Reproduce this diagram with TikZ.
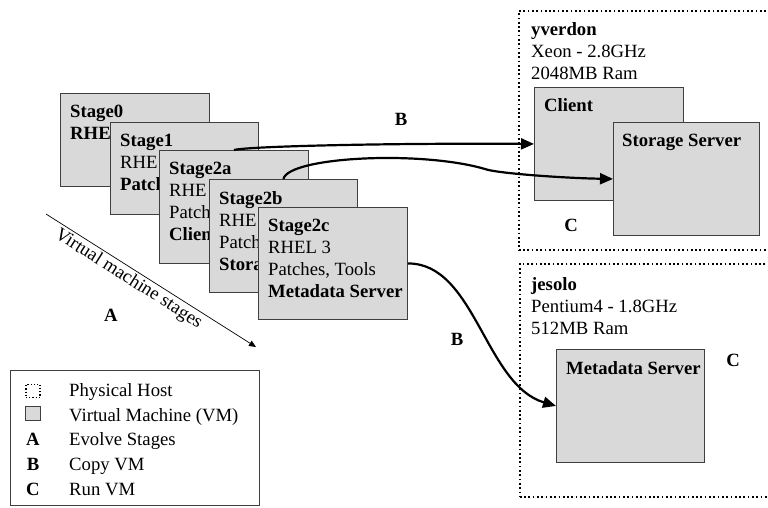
\documentclass[tikz,border=0pt]{standalone}
\usepackage{fontspec}
\setmainfont{Liberation Serif}
\usepackage{xcolor}
\usepackage{tikz}
\usetikzlibrary{
	arrows.meta,									% 提供各种箭头样式
	calc,											% 坐标计算
	positioning,									% 节点的高级摆放
}

\definecolor{vmfill}{HTML}{D9D9D9}
\definecolor{vmline}{HTML}{3F3F3F}

\tikzset{
	vmbox/.style={draw=vmline, fill=vmfill, line width=0.9pt, anchor=north west, inner sep=0pt, minimum width=149pt, minimum height=113pt},
	vmtext/.style={anchor=north west, inner sep=0pt, align=left},
	hostbox/.style={draw, line width=1.7pt, dash pattern=on 1.7pt off 2.6pt, anchor=north west, inner sep=0pt, minimum width=262pt},
	copyarrow/.style={line width=2.2pt, -{Triangle[length=13pt, width=11pt]}},
	letter/.style={font=\fontsize{18.7}{22}\selectfont\bfseries, inner sep=0pt},
}

\begin{document}
\begin{tikzpicture}[x=1pt, y=-1pt, every node/.style={font=\fontsize{18.7}{22}\selectfont}]
	\useasboundingbox (0,0) rectangle (768,507);
	% 物理主机
	\node[hostbox, minimum height=239pt] (yverdon) at (518,10) {};
	\node[vmtext, below right=12pt and 13pt of yverdon.north west] (yverdontxt) {\textbf{yverdon}\\Xeon - 2.8GHz\\2048MB Ram};
	\node[hostbox, minimum height=233pt] (jesolo) at (519,263) {};
	\node[vmtext, below right=14pt and 12pt of jesolo.north west] (jesolotxt) {\textbf{jesolo}\\Pentium4 - 1.8GHz\\512MB Ram};
	% 虚拟机各阶段 (后一阶段盖住前一阶段)
	\node[vmbox, minimum height=93pt] (s0) at (60,93) {};
	\node[vmtext, below right=12pt and 10pt of s0.north west] (s0txt) {\textbf{Stage0}\\\textbf{RHE}};
	\node[vmbox, minimum width=148pt, minimum height=92pt] (s1) at (110,122) {};
	\node[vmtext, below right=12pt and 10pt of s1.north west] (s1txt) {\textbf{Stage1}\\RHE\\\textbf{Patch}};
	\node[vmbox] (s2a) at (159,150) {};
	\node[vmtext, below right=12pt and 10pt of s2a.north west] (s2atxt) {\textbf{Stage2a}\\RHE\\Patch\\\textbf{Clien}};
	\node[vmbox, minimum width=148pt] (s2b) at (209,179) {};
	\node[vmtext, below right=12pt and 10pt of s2b.north west] (s2btxt) {\textbf{Stage2b}\\RHE\\Patch\\\textbf{Stora}};
	\node[vmbox, minimum height=112pt] (s2c) at (258,207) {};
	\node[vmtext, below right=12pt and 10pt of s2c.north west] (s2ctxt) {\textbf{Stage2c}\\RHEL 3\\Patches, Tools\\\textbf{Metadata Server}};
	% 运行中的虚拟机
	\node[vmbox] (client) at (534,87) {};
	\node[vmtext, below right=11pt and 10pt of client.north west] (clienttxt) {\textbf{Client}};
	\node[vmbox, minimum width=146pt] (storage) at (613,122) {};
	\node[vmtext, below right=12pt and 9pt of storage.north west] (storagetxt) {\textbf{Storage Server}};
	\node[vmbox, minimum width=148pt] (meta) at (556,349) {};
	\node[vmtext, below right=12pt and 10pt of meta.north west] (metatxt) {\textbf{Metadata Server}};
	% 复制
	\draw[copyarrow] (s2a.north) .. controls (250,146) and (400,143) .. (client.west);
	\draw[copyarrow] (s2b.north) .. controls (288,157) and (420,150) .. (485,169) .. controls (495,173) and (560,178) .. (storage.west);
	\draw[copyarrow] (s2c.east) .. controls (475,263) and (485,385) .. (meta.west);
	% 阶段演进
	\coordinate (vmstart) at (46,214);
	\coordinate (vmend) at (256,347);
	\draw[line width=0.7pt, -{Triangle[length=7pt, width=6pt]}] (vmstart) -- node[sloped, below, pos=0.42, inner sep=2pt] (vmlabel) {Virtual machine stages} (vmend);
	\node[letter] (labA) at (111,315) {A};
	\node[letter] (labB) at (401,119) {B};
	\node[letter] (labBB) at (457,339) {B};
	\node[letter] (labC) at (571,225) {C};
	\node[letter] (labCC) at (733,360) {C};
	% 图例
	\node[draw=vmline, line width=0.9pt, anchor=north west, minimum width=249pt, minimum height=135pt] (legend) at (10,370) {};
	\node[draw, line width=1.2pt, dash pattern=on 1.2pt off 2pt, minimum width=14pt, minimum height=13pt, inner sep=0pt] (leghost) at (33,391) {};
	\node[draw=vmline, fill=vmfill, line width=0.9pt, minimum width=15pt, minimum height=14pt, inner sep=0pt] (legvm) at (33,413) {};
	\foreach \l [count=\i from 3] in {A, B, C}
		\node[letter, anchor=base] (legl\i) at (33, 371.5+24.75*\i) {\l};
	\foreach \txt [count=\i] in {Physical Host, Virtual Machine (VM), Evolve Stages, Copy VM, Run VM}
		\node[anchor=base west, inner sep=0pt] (leg\i) at (69, 371.5+24.75*\i) {\txt};
\end{tikzpicture}
\end{document}
